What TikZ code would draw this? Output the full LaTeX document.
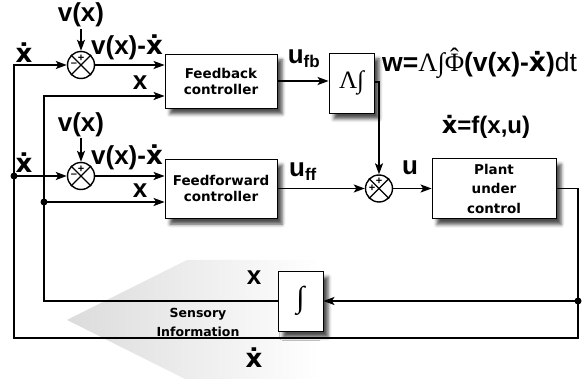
\documentclass[tikz,border=0pt]{standalone}
\usepackage{fontspec}
\setmainfont{Liberation Sans}
\newfontfamily\boxfont{DejaVu Sans}
\newfontfamily\serfont{Liberation Serif}
\usetikzlibrary{arrows.meta,shadows.blur,calc}
\newcommand\xd{{\boxfont ẋ}}
\begin{document}
\begin{tikzpicture}[x=1pt,y=-1pt,
  wire/.style={line width=1.7pt},
  arr/.style={wire,-{Stealth[length=11pt,width=8pt,inset=2.5pt]}},
  blk/.style={draw, line width=0.8pt, fill=white, inner sep=0pt, align=center,
    font=\boxfont\bfseries\fontsize{13.5}{16}\selectfont,
    blur shadow={shadow xshift=5pt, shadow yshift=-6pt, shadow blur radius=3.5pt, shadow opacity=70}},
  sumj/.style={circle, draw, line width=1.4pt, minimum size=27pt, inner sep=0pt, fill=white},
  lbl/.style={font=\bfseries\fontsize{26}{28}\selectfont, anchor=base, inner sep=0pt},
  sgn/.style={font=\bfseries\fontsize{11}{11}\selectfont, inner sep=0pt},
  dotn/.style={circle, fill, inner sep=0pt, minimum size=7pt},
]
\useasboundingbox (0,0) rectangle (582,379);
% sensory information arrow
\shade[left color=black!14, right color=white] (67,320) -- (187,260) -- (320,260) -- (320,380) -- (187,380) -- cycle;

% blocks
\node[blk, minimum width=112pt, minimum height=54pt] (fb) at (221,81) {Feedback\\controller};
\node[blk, minimum width=112pt, minimum height=59pt] (ff) at (221,188.5) {Feedforward\\controller};
\node[blk, minimum width=45pt, minimum height=60pt, font=\serfont\fontsize{25}{27}\selectfont] (lam) at (351.5,83) {Λ∫};
\node[blk, minimum width=124pt, minimum height=60pt, font=\boxfont\bfseries\fontsize{13.5}{19.5}\selectfont] (plant) at (494,188.5) {Plant\\under\\control};
\node[blk, minimum width=45pt, minimum height=60pt, font=\serfont\fontsize{30}{32}\selectfont] (integ) at (300.5,301) {∫};

% summing junctions
\node[sumj] (j1) at (81,65) {};
\node[sumj] (j2) at (81,176) {};
\node[sumj] (j3) at (379,188.5) {};
\foreach \j in {j1,j2,j3}{
  \draw[line width=1.2pt] (\j.45) -- (\j.225) (\j.135) -- (\j.315);
  \node[sgn] at ($(\j)+(0,-7)$) {+};
}
\node[sgn] at ($(j1)+(-7,0)$) {–};
\node[sgn] at ($(j2)+(-7,0)$) {–};
\node[sgn] at ($(j3)+(-7,0)$) {+};

% coordinates
\coordinate (tl) at (14,65);
\coordinate (bl) at (14,338);
\coordinate (br) at (578,338);
\coordinate (ro) at (578,188.5);
\coordinate (il) at (44,301);
\coordinate (it) at (44,96);
\coordinate (vx1) at (81,29);
\coordinate (vx2) at (81,138);
\node[dotn] (d1) at (14,176) {};
\node[dotn] (d2) at (44,202) {};
\node[dotn] (d3) at (578,301) {};

% connectors
\draw[arr] (plant.east) -- (ro) -- (br) -- (bl) -- (tl) -- (j1);
\draw[arr] (d1.center) -- (j2);
\draw[arr] (d3.center) -- (integ.east);
\draw[arr] (integ.west) -- (il) -- (it) -- (it -| fb.west);
\draw[arr] (d2.center) -- (d2 -| ff.west);
\draw[arr] (j1) -- (j1 -| fb.west);
\draw[arr] (j2) -- (j2 -| ff.west);
\draw[arr] (fb.east) -- (fb.east -| lam.west);
\draw[arr] ([yshift=1pt]lam.east) -| (j3);
\draw[arr] (ff.east) -- (j3);
\draw[arr] (j3) -- (plant);
\draw[arr] (vx1) -- (j1);
\draw[arr] (vx2) -- (j2);

% labels
\node[lbl] (lv1) at (81,22) {v(x)};
\node[lbl] (lv2) at (81,132) {v(x)};
\node[lbl] (lxd1) at (24,63) {\xd};
\node[lbl] (lxd2) at (24,173) {\xd};
\node[lbl] (le1) at (127,55) {v(x)-\xd};
\node[lbl] (le2) at (127,165) {v(x)-\xd};
\node[lbl] (lx1) at (140,90) {x};
\node[lbl] (lx2) at (140,198) {x};
\node[lbl] (lufb) at (304,64) {u\textsubscript{\fontsize{17}{17}\selectfont fb}};
\node[lbl] (luff) at (303,177) {u\textsubscript{\fontsize{17}{17}\selectfont ff}};
\node[lbl] (lu) at (410,175) {u};
\node[lbl, anchor=base west, font=\bfseries\fontsize{26.5}{28}\selectfont] (lw) at (382,72) {w={\serfont\mdseries Λ∫\accent"02C6 Φ}(v(x)-\xd)\mdseries dt};
\node[lbl, font=\bfseries\fontsize{24}{26}\selectfont] (lf) at (486,134) {\xd=f(x,u)};
\node[lbl] (lx3) at (254,285) {x};
\node[lbl] (lxd3) at (254,368) {\xd};
\node[font=\boxfont\bfseries\fontsize{12.5}{19}\selectfont, align=center, inner sep=0pt] (sens) at (198,322) {Sensory\\Information};
\end{tikzpicture}
\end{document}
